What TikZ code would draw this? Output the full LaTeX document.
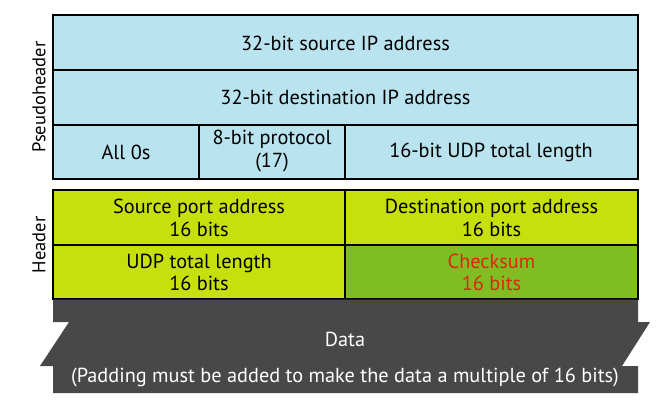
\documentclass[tikz,border=0pt]{standalone}
\usepackage{fontspec}
\setmainfont{PT Sans}
\definecolor{pblue}{HTML}{B9E3EE}
\definecolor{hlime}{HTML}{C6E00E}
\definecolor{cgreen}{HTML}{7FBD22}
\definecolor{cred}{HTML}{E0250F}
\definecolor{dgray}{HTML}{484848}
\tikzset{
  cell/.style={draw=black, line width=1.2pt},
  lbl/.style={font=\fontsize{20.3}{22.5}\selectfont, align=center, inner sep=0pt},
  side/.style={font=\fontsize{18.5}{22}\selectfont, rotate=90, inner sep=0pt},
}
\begin{document}
\begin{tikzpicture}[x=1pt,y=-1pt]
\useasboundingbox (0,0) rectangle (668,406);
% pseudoheader
\filldraw[cell, fill=pblue] (53,15) rectangle (638,70);
\filldraw[cell, fill=pblue] (53,70) rectangle (638,125);
\filldraw[cell, fill=pblue] (53,125) rectangle (199,179);
\filldraw[cell, fill=pblue] (199,125) rectangle (345,179);
\filldraw[cell, fill=pblue] (345,125) rectangle (638,179);
\node[lbl] (src) at (345.5,43) {32-bit source IP address};
\node[lbl] (dst) at (345.5,97) {32-bit destination IP address};
\node[lbl] (zero) at (126,152) {All 0s};
\node[lbl] (proto) at (272,151) {8-bit protocol\\(17)};
\node[lbl] (len) at (491,152) {16-bit UDP total length};
\node[side] (ph) at (39,97) {Pseudoheader};
% header
\filldraw[cell, fill=hlime] (53,190) rectangle (345,245);
\filldraw[cell, fill=hlime] (345,190) rectangle (638,245);
\filldraw[cell, fill=hlime] (53,245) rectangle (345,299);
\filldraw[cell, fill=cgreen] (345,245) rectangle (638,299);
\node[lbl] (sp) at (199,218) {Source port address\\16 bits};
\node[lbl] (dp) at (491.5,218) {Destination port address\\16 bits};
\node[lbl] (ul) at (199,272.5) {UDP total length\\16 bits};
\node[lbl, text=cred] (cs) at (491.5,272.5) {Checksum\\16 bits};
\node[side] (hd) at (39,245) {Header};
% data
\fill[dgray] (53,299.6) -- (638,299.6) -- (638,322) -- (650,322) -- (622,366) -- (638,366)
  -- (638,393) -- (53,393) -- (53,366) -- (40,366) -- (69,322) -- (53,322) -- cycle;
\node[lbl, text=white] (data) at (345,339) {Data};
\node[lbl, text=white] (pad) at (345,378) {(Padding must be added to make the data a multiple of 16 bits)};
\end{tikzpicture}
\end{document}
